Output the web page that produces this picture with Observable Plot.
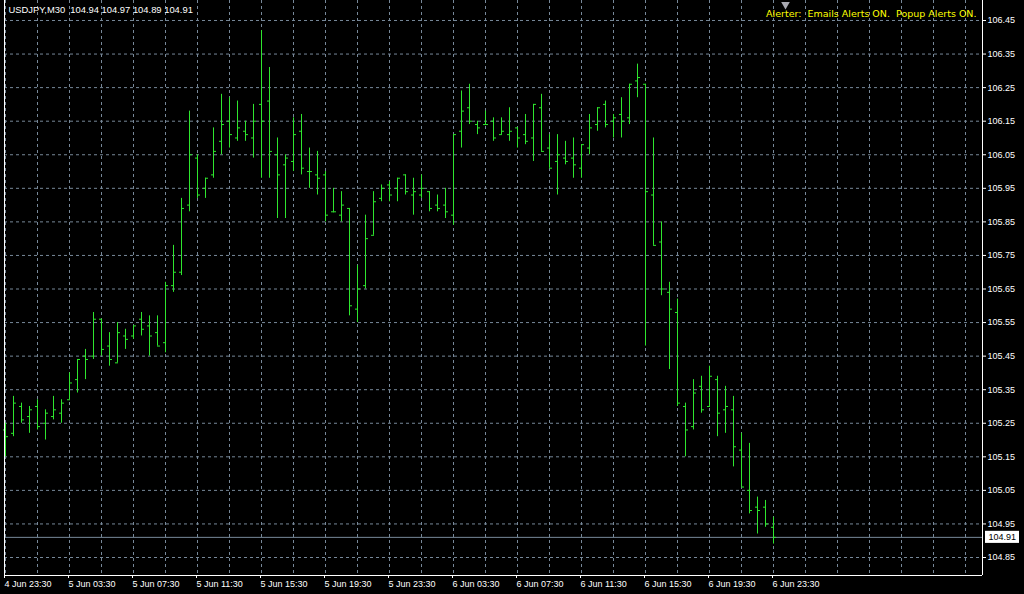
<!DOCTYPE html>
<html><head><meta charset="utf-8">
<script src="https://cdn.jsdelivr.net/npm/d3@7"></script>
<script src="https://cdn.jsdelivr.net/npm/@observablehq/plot@0.6"></script>
<style>html,body{margin:0;padding:0;background:#000;overflow:hidden}</style>
</head><body><div id="chart"></div>
<script>
// ---- data ----
const symbol = "USDJPY,M30";
const startTime = Date.UTC(2008, 5, 4, 23, 30); // first bar: 4 Jun 23:30, M30 bars
const opens = [105.23,105.22,105.30,105.27,105.30,105.25,105.27,105.28,105.32,105.38,
105.45,105.45,105.56,105.48,105.43,105.51,105.51,105.56,105.54,105.52,
105.49,105.66,105.70,105.90,106.04,105.95,105.99,106.09,106.15,106.10,
106.12,106.10,106.20,106.21,106.05,106.02,106.03,106.12,106.00,105.99,
105.99,105.88,105.87,105.89,105.59,105.66,105.81,105.92,105.96,105.95,
105.99,105.93,105.93,105.94,105.90,105.90,105.87,106.12,106.19,106.14,
106.14,106.15,106.11,106.11,106.13,106.11,106.10,106.19,106.07,106.03,
106.04,106.04,106.01,106.07,106.14,106.20,106.15,106.17,106.16,106.27,
106.26,105.93,105.79,105.64,105.58,105.30,105.24,105.36,105.30,105.38,
105.29,105.29,105.17,105.05,105.00,105.00,104.94];
const highs = [105.25,105.33,105.31,105.30,105.32,105.29,105.33,105.32,105.40,105.44,
105.47,105.58,105.56,105.52,105.55,105.53,105.54,105.58,105.57,105.57,
105.67,105.78,105.92,106.18,106.05,105.98,106.13,106.23,106.22,106.21,
106.15,106.20,106.42,106.31,106.10,106.05,106.16,106.17,106.07,106.06,
106.00,105.95,105.94,105.89,105.72,105.87,105.94,105.96,105.97,105.98,
105.99,105.98,105.99,105.94,105.93,105.95,106.11,106.24,106.26,106.15,
106.18,106.16,106.16,106.19,106.13,106.17,106.20,106.23,106.11,106.11,
106.09,106.10,106.08,106.17,106.19,106.21,106.17,106.22,106.26,106.32,
106.26,106.10,105.85,105.67,105.62,105.31,105.38,105.39,105.42,105.39,
105.36,105.33,105.22,105.19,105.03,105.02,104.97];
const lows = [105.15,105.21,105.25,105.22,105.23,105.20,105.26,105.25,105.32,105.34,
105.38,105.44,105.45,105.42,105.43,105.47,105.50,105.51,105.45,105.48,
105.46,105.64,105.69,105.88,105.92,105.92,105.98,106.05,106.07,106.09,
106.09,106.04,105.98,105.98,105.86,105.86,106.00,105.99,105.95,105.93,
105.85,105.88,105.85,105.57,105.55,105.65,105.81,105.91,105.91,105.91,
105.93,105.87,105.92,105.88,105.88,105.86,105.84,106.07,106.14,106.11,
106.14,106.09,106.11,106.09,106.07,106.08,106.03,106.06,106.01,105.93,
106.02,105.98,105.98,106.05,106.12,106.13,106.10,106.10,106.14,106.22,
105.48,105.78,105.63,105.41,105.30,105.15,105.23,105.28,105.30,105.21,
105.22,105.12,105.06,104.98,104.92,104.94,104.89];
const closes = [105.21,105.31,105.26,105.29,105.24,105.28,105.29,105.31,105.37,105.44,
105.44,105.56,105.47,105.44,105.52,105.50,105.54,105.53,105.51,105.48,
105.66,105.70,105.89,106.05,105.93,105.98,106.06,106.14,106.11,106.13,
106.11,106.15,106.15,106.06,105.99,106.04,106.11,106.01,106.00,105.98,
105.87,105.88,105.90,105.60,105.65,105.80,105.91,105.95,105.93,105.98,
105.94,105.94,105.95,105.89,105.89,105.88,106.11,106.18,106.15,106.13,
106.14,106.10,106.12,106.12,106.10,106.09,106.20,106.06,106.01,106.05,
106.03,106.02,106.08,106.13,106.19,106.14,106.16,106.15,106.26,106.28,
105.94,105.78,105.65,105.59,105.31,105.23,105.34,105.29,105.39,105.28,
105.30,105.18,105.06,104.99,104.99,104.95,104.91];
const priceTicks = [106.45,106.35,106.25,106.15,106.05,105.95,105.85,105.75,105.65,
105.55,105.45,105.35,105.25,105.15,105.05,104.95,104.85];
const lastPrice = 104.91;
const alertText = "Alerter:\u00a0 Emails Alerts ON.\u00a0 Popup Alerts ON.";
const months = ["Jan","Feb","Mar","Apr","May","Jun","Jul","Aug","Sep","Oct","Nov","Dec"];

// ---- helpers ----
const STEP = 30 * 60 * 1000;
const t = i => new Date(startTime + i * STEP);
const bars = opens.map((o, i) => ({i, date: t(i), open: o, high: highs[i], low: lows[i], close: closes[i]}));
const last = bars[bars.length - 1];
const header = `${symbol}\u00a0 ${last.open.toFixed(2)} ${last.high.toFixed(2)} ${last.low.toFixed(2)} ${last.close.toFixed(2)}`;
const labelTimes = d3.range(0, bars.length, 8).map(t);
const gridTimes = d3.range(0, 121, 4).map(t);
const pad = n => String(n).padStart(2, "0");
const fmt = d => `${d.getUTCDate()} ${months[d.getUTCMonth()]} ${pad(d.getUTCHours())}:${pad(d.getUTCMinutes())}`;

const GREEN = "#2ee62e", GRID = "#778899", FONT = "Liberation Sans, Arial, sans-serif";

const chart = Plot.plot({
  width: 1024, height: 594,
  marginLeft: 4, marginRight: 42, marginTop: 0, marginBottom: 19,
  style: {background: "#000", color: "#fff", fontFamily: FONT, fontSize: "9px"},
  x: {type: "utc", domain: [t(-0.125), t(122.125)]},
  y: {domain: [104.79637, 106.50959]},
  marks: [
    Plot.ruleX(gridTimes, {stroke: GRID, strokeDasharray: "3,3"}),
    Plot.ruleY(priceTicks, {stroke: GRID, strokeDasharray: "3,3"}),
    Plot.ruleY([lastPrice], {stroke: GRID}),
    Plot.ruleX(bars, {x: "date", y1: "low", y2: "high", stroke: GREEN}),
    Plot.ruleY(bars, {y: "open", x1: d => t(d.i - 0.25), x2: d => t(d.i + 0.125), stroke: GREEN}),
    Plot.ruleY(bars, {y: "close", x1: d => t(d.i), x2: d => t(d.i + 0.375), stroke: GREEN}),
    Plot.ruleY([104.79637], {stroke: "#fff"}),
    Plot.ruleX([t(122.125)], {stroke: "#fff"}),
    Plot.ruleX([t(-0.125)], {stroke: "#fff"}),
    Plot.axisY({anchor: "right", ticks: priceTicks, tickFormat: d => d.toFixed(2), tickSize: 3, tickPadding: 2, label: null, fontSize: 9}),
    Plot.axisX({ticks: labelTimes, tickFormat: fmt, tickSize: 3, tickPadding: 2, textAnchor: "start", dx: -1, label: null, fontSize: 9}),
    Plot.rect([lastPrice], {x1: () => t(122.5), x2: () => t(126.75), y1: d => d - 0.018, y2: d => d + 0.018, fill: "#fff"}),
    Plot.text([lastPrice], {y: d => d, text: d => d.toFixed(2), frameAnchor: "right", textAnchor: "start", dx: 6, fill: "#000", fontSize: 9}),
    Plot.text([header], {frameAnchor: "top-left", dx: 4, dy: 6, fill: "#fff", fontSize: 9.4}),
    Plot.text([alertText], {frameAnchor: "top-right", dx: -6, dy: 10, fill: "#ffff00", fontSize: 9.5, fontFamily: "DejaVu Sans, sans-serif"}),
    Plot.dot([0], {frameAnchor: "top-left", dx: 781, dy: 4, symbol: "triangle", rotate: 180, r: 3.2, fill: "#a8a8b0", stroke: "none"})
  ]
});
document.getElementById("chart").append(chart);
</script>
</body></html>
